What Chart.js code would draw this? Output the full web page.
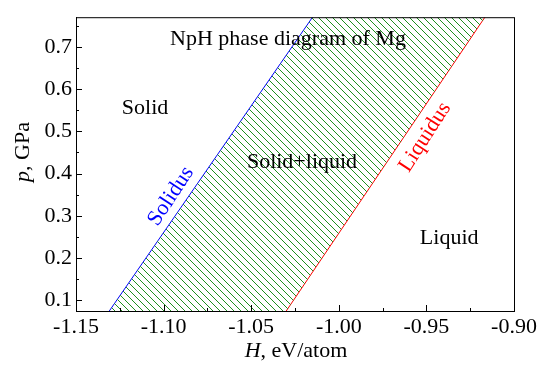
<!DOCTYPE html>
<html>
<head>
<meta charset="utf-8">
<script src="https://cdn.jsdelivr.net/npm/chart.js@4/dist/chart.umd.min.js"></script>
<style>
  html, body { margin: 0; padding: 0; background: #fff; }
  #wrap { width: 540px; height: 371px; }
</style>
</head>
<body>
<div id="wrap"><canvas id="phaseChart" width="540" height="371"></canvas></div>
<script>
// phase boundaries (H in eV/atom, p in GPa)
const solidusH = [-1.131, -1.015];
const solidusP = [0.075, 0.77];
const liquidusH = [-1.030, -0.9166];
const liquidusP = [0.075, 0.77];

// axis ticks
const xTicks = [-1.15, -1.10, -1.05, -1.00, -0.95, -0.90];
const xMinor = [-1.125, -1.075, -1.025, -0.975, -0.925];
const yTicks = [0.1, 0.2, 0.3, 0.4, 0.5, 0.6, 0.7];
const yMinor = [0.15, 0.25, 0.35, 0.45, 0.55, 0.65, 0.75];

// text labels placed in data coordinates
const notes = [
    { text: 'NpH phase diagram of Mg', h: -1.029, p: 0.704, color: '#000', angle: 0 },
    { text: 'Solid', h: -1.1106, p: 0.540, color: '#000', angle: 0 },
    { text: 'Solid+liquid', h: -1.021, p: 0.414, color: '#000', angle: 0 },
    { text: 'Liquid', h: -0.937, p: 0.2334, color: '#000', angle: 0 },
    { text: 'Solidus', h: -1.0958, p: 0.3463, color: '#0000ff', angle: -56.6, mid: true },
    { text: 'Liquidus', h: -0.9508, p: 0.4862, color: '#ff0000', angle: -57.2, mid: true }
];

const FONT = '"Liberation Serif", "Times New Roman", serif';
const tickFont = { family: FONT, size: 22 };
Chart.defaults.font.family = FONT;
Chart.defaults.font.size = 22;
Chart.defaults.color = '#000';

// green hatch pattern
function makeHatch() {
    const s = 7;
    const c = document.createElement('canvas');
    c.width = s; c.height = s;
    const g = c.getContext('2d');
    g.strokeStyle = '#1f8f1f';
    g.lineWidth = 1;
    g.beginPath();
    for (const k of [-s, 0, s]) {
        g.moveTo(k, 0);
        g.lineTo(k + s, s);
    }
    g.stroke();
    return g.createPattern(c, 'repeat');
}

const regionPts = [];
for (let i = 0; i < solidusH.length; i++) regionPts.push({ x: solidusH[i], y: solidusP[i] });
for (let i = liquidusH.length - 1; i >= 0; i--) regionPts.push({ x: liquidusH[i], y: liquidusP[i] });

const decor = {
    id: 'decor',
    afterDraw(chart) {
        const ctx = chart.ctx;
        const a = chart.chartArea;
        const xs = chart.scales.x, ys = chart.scales.y;
        ctx.save();
        ctx.strokeStyle = '#000';
        ctx.lineWidth = 1;
        ctx.strokeRect(a.left + 0.5, a.top + 0.5, a.right - a.left, a.bottom - a.top);

        // inward ticks
        ctx.beginPath();
        xTicks.forEach(v => { const px = Math.round(xs.getPixelForValue(v)) + 0.5; ctx.moveTo(px, a.bottom); ctx.lineTo(px, a.bottom - 6); });
        xMinor.forEach(v => { const px = Math.round(xs.getPixelForValue(v)) + 0.5; ctx.moveTo(px, a.bottom); ctx.lineTo(px, a.bottom - 3); });
        yTicks.forEach(v => { const py = Math.round(ys.getPixelForValue(v)) + 0.5; ctx.moveTo(a.left, py); ctx.lineTo(a.left + 6, py); });
        yMinor.forEach(v => { const py = Math.round(ys.getPixelForValue(v)) + 0.5; ctx.moveTo(a.left, py); ctx.lineTo(a.left + 3, py); });
        ctx.stroke();

        // annotations
        ctx.font = '22px ' + FONT;
        notes.forEach(n => {
            ctx.save();
            ctx.translate(xs.getPixelForValue(n.h), ys.getPixelForValue(n.p));
            ctx.rotate(n.angle * Math.PI / 180);
            ctx.fillStyle = n.color;
            ctx.textAlign = 'center';
            ctx.textBaseline = n.mid ? 'middle' : 'alphabetic';
            ctx.fillText(n.text, 0, 0);
            ctx.restore();
        });

        // axis titles with italic symbols
        function mixed(parts, cx, cy, rot) {
            ctx.save();
            ctx.translate(cx, cy);
            ctx.rotate(rot);
            ctx.textBaseline = 'alphabetic';
            ctx.textAlign = 'left';
            let w = 0;
            parts.forEach(p => { ctx.font = (p.it ? 'italic ' : '') + '22px ' + FONT; w += ctx.measureText(p.t).width; });
            let x0 = -w / 2;
            parts.forEach(p => {
                ctx.font = (p.it ? 'italic ' : '') + '22px ' + FONT;
                ctx.fillText(p.t, x0, 0);
                x0 += ctx.measureText(p.t).width;
            });
            ctx.restore();
        }
        ctx.fillStyle = '#000';
        mixed([{ t: 'H', it: true }, { t: ', eV/atom' }], 296, 357, 0);
        mixed([{ t: 'p', it: true }, { t: ', GPa' }], 29, 152, -Math.PI / 2);
        ctx.restore();
    }
};

const chart = new Chart(document.getElementById('phaseChart').getContext('2d'), {
    type: 'scatter',
    data: {
        datasets: [{
            label: 'two-phase',
            data: regionPts,
            showLine: true,
            fill: 'shape',
            backgroundColor: makeHatch(),
            borderWidth: 0,
            pointRadius: 0
        }, {
            label: 'Solidus',
            data: solidusH.map((h, i) => ({ x: h, y: solidusP[i] })),
            showLine: true,
            borderColor: '#0000ff',
            borderWidth: 1,
            pointRadius: 0
        }, {
            label: 'Liquidus',
            data: liquidusH.map((h, i) => ({ x: h, y: liquidusP[i] })),
            showLine: true,
            borderColor: '#ff0000',
            borderWidth: 1,
            pointRadius: 0
        }]
    },
    options: {
        responsive: false,
        animation: false,
        layout: { padding: { top: 3, right: 26, left: 0, bottom: 0 } },
        plugins: { legend: { display: false }, tooltip: { enabled: false } },
        scales: {
            x: {
                type: 'linear',
                min: -1.15,
                max: -0.90,
                afterBuildTicks: s => { s.ticks = xTicks.map(v => ({ value: v })); },
                afterFit: s => { s.height = 60; },
                grid: { display: false, drawTicks: false },
                border: { display: true, color: '#000' },
                ticks: { padding: 3, font: tickFont, color: '#000', callback: v => v.toFixed(2) }
            },
            y: {
                type: 'linear',
                min: 0.075,
                max: 0.77,
                afterBuildTicks: s => { s.ticks = yTicks.map(v => ({ value: v })); },
                afterFit: s => { s.width = 76; },
                grid: { display: false, drawTicks: false },
                border: { display: true, color: '#000' },
                ticks: { padding: 4, font: tickFont, color: '#000', callback: v => v.toFixed(1) }
            }
        }
    },
    plugins: [decor]
});
</script>
</body>
</html>
